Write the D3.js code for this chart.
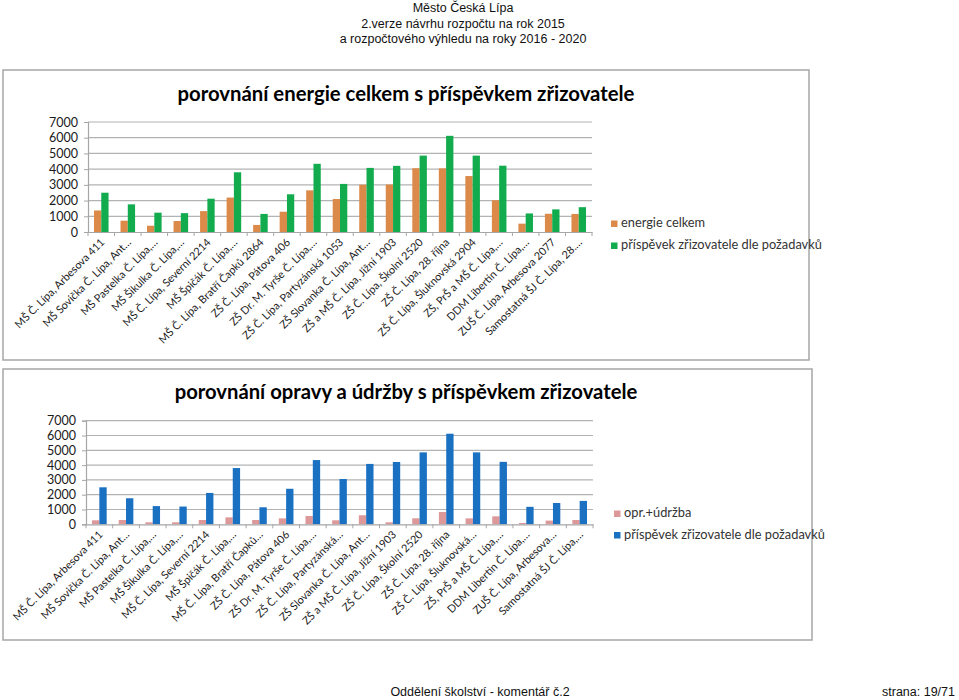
<!DOCTYPE html>
<html><head><meta charset="utf-8">
<script src="https://cdn.jsdelivr.net/npm/d3@7/dist/d3.min.js"></script>
<style>
html,body{margin:0;padding:0;background:#fff;}
svg{display:block;}
</style></head>
<body>
<svg id="c" width="959" height="700"></svg>
<script>
const categoriesTop = [
  "MŠ Č. Lípa, Arbesova 411","MŠ Sovička Č. Lípa, Ant…","MŠ Pastelka Č. Lípa,…","MŠ Šikulka Č. Lípa,…",
  "MŠ Č. Lípa, Severní 2214","MŠ Špičák Č. Lípa,…","MŠ Č. Lípa, Bratří Čapků 2864","ZŠ Č. Lípa, Pátova 406",
  "ZŠ Dr. M. Tyrše Č. Lípa,…","ZŠ Č. Lípa, Partyzánská 1053","ZŠ Slovanka Č. Lípa, Ant…","ZŠ a MŠ Č. Lípa, Jižní 1903",
  "ZŠ Č. Lípa, Školní 2520","ZŠ Č. Lípa, 28. října","ZŠ Č. Lípa, Šluknovská 2904","ZŠ, PrŠ a MŠ Č. Lípa,…",
  "DDM Libertin Č. Lípa,…","ZUŠ Č. Lípa, Arbesova 2077","Samostatná ŠJ Č. Lípa, 28.…"
];
const categoriesBottom = [
  "MŠ Č. Lípa, Arbesova 411","MŠ Sovička Č. Lípa, Ant…","MŠ Pastelka Č. Lípa,…","MŠ Šikulka Č. Lípa,…",
  "MŠ Č. Lípa, Severní 2214","MŠ Špičák Č. Lípa,…","MŠ Č. Lípa, Bratří Čapků…","ZŠ Č. Lípa, Pátova 406",
  "ZŠ Dr. M. Tyrše Č. Lípa,…","ZŠ Č. Lípa, Partyzánská…","ZŠ Slovanka Č. Lípa, Ant…","ZŠ a MŠ Č. Lípa, Jižní 1903",
  "ZŠ Č. Lípa, Školní 2520","ZŠ Č. Lípa, 28. října","ZŠ Č. Lípa, Šluknovská…","ZŠ, PrŠ a MŠ Č. Lípa,…",
  "DDM Libertin Č. Lípa,…","ZUŠ Č. Lípa, Arbesova…","Samostatná ŠJ Č. Lípa,…"
];
const energieCelkem = [1370, 720, 400, 700, 1330, 2190, 450, 1290, 2650, 2100, 3010, 3020, 4060, 4050, 3560, 2020, 530, 1160, 1150];
const prispevekZrizovatele = [2500, 1760, 1230, 1200, 2120, 3800, 1150, 2400, 4340, 3060, 4080, 4210, 4860, 6120, 4860, 4220, 1180, 1440, 1580];
const opravyUdrzba = [270, 290, 135, 135, 290, 470, 290, 400, 560, 270, 610, 135, 405, 830, 400, 540, 90, 250, 290];
const yTicks = [0, 1000, 2000, 3000, 4000, 5000, 6000, 7000];
const headerLines = ["Město Česká Lípa", "2.verze návrhu rozpočtu na rok 2015", "a rozpočtového výhledu na roky 2016 - 2020"];
const footerLeft = "Oddělení školství - komentář č.2";
const footerRight = "strana: 19/71";

const svg = d3.select("#c");
const FONT = "Lato, Carlito, 'Noto Sans', sans-serif";

// page header
svg.append("g").selectAll("text").data(headerLines).join("text")
  .attr("x", 463).attr("y", (d,i)=>12 + i*15.6)
  .attr("text-anchor","middle").attr("font-family","'Liberation Sans', Arial, sans-serif")
  .attr("font-size", 12.5).attr("fill","#111").text(d=>d);

// footer
svg.append("text").attr("x", 480).attr("y", 696).attr("text-anchor","middle")
  .attr("font-family","'Liberation Sans', Arial, sans-serif").attr("font-size",12.5).attr("fill","#111").text(footerLeft);
svg.append("text").attr("x", 955).attr("y", 696).attr("text-anchor","end")
  .attr("font-family","'Liberation Sans', Arial, sans-serif").attr("font-size",12.5).attr("fill","#111").text(footerRight);

function drawChart(cfg) {
  const g = svg.append("g");
  g.append("rect").attr("x", cfg.box.x).attr("y", cfg.box.y).attr("width", cfg.box.w).attr("height", cfg.box.h)
    .attr("fill","#fff").attr("stroke","#a6a6a6").attr("stroke-width",1.5);

  const y = d3.scaleLinear().domain([0, 7000]).range([cfg.plot.b, cfg.plot.t]);
  const x0 = d3.scaleBand().domain(d3.range(cfg.categories.length)).range([cfg.plot.l, cfg.plot.r]).padding(0);
  const x1 = d3.scaleBand().domain([0,1]).range([0, x0.bandwidth()]).paddingInner(0).paddingOuter(0.82);

  // gridlines
  g.append("g").selectAll("line").data(yTicks.filter(t=>t>0)).join("line")
    .attr("x1", cfg.plot.l).attr("x2", cfg.plot.r)
    .attr("y1", d=>y(d)).attr("y2", d=>y(d))
    .attr("stroke","#b3b3b3").attr("stroke-width",1.2);

  // y axis
  const ya = d3.axisLeft(y).tickValues(yTicks).tickSize(4).tickPadding(6).tickFormat(d3.format("d"));
  const yg = g.append("g").attr("transform", `translate(${cfg.plot.l},0)`).call(ya);
  yg.select(".domain").attr("stroke","#a6a6a6").attr("stroke-width",1.2);
  yg.selectAll(".tick line").attr("stroke","#a6a6a6");
  yg.selectAll("text").attr("font-family", FONT).attr("font-size", 12.5).attr("fill","#1a1a1a");

  // bars
  const series = [cfg.s1, cfg.s2];
  series.forEach((s, si) => {
    g.append("g").selectAll("rect").data(s.values).join("rect")
      .attr("x", (d,i)=>x0(i) + x1(si))
      .attr("width", x1.bandwidth())
      .attr("y", d=>y(d))
      .attr("height", d=>y(0)-y(d))
      .attr("fill", s.color);
  });

  // x axis
  const xa = d3.axisBottom(x0).tickSize(0).tickFormat(()=> "");
  const xg = g.append("g").attr("transform", `translate(0,${cfg.plot.b})`).call(xa);
  xg.select(".domain").attr("stroke","#a6a6a6").attr("stroke-width",1.2);
  // category boundary ticks
  g.append("g").selectAll("line").data(d3.range(cfg.categories.length+1)).join("line")
    .attr("x1", i=>cfg.plot.l + i*x0.step()).attr("x2", i=>cfg.plot.l + i*x0.step())
    .attr("y1", cfg.plot.b).attr("y2", cfg.plot.b+4).attr("stroke","#a6a6a6");

  g.append("g").selectAll("text").data(cfg.categories).join("text")
    .attr("transform", (d,i)=>`translate(${x0(i)+x0.bandwidth()/2+4},${cfg.plot.b+11}) rotate(-45)`)
    .attr("text-anchor","end").attr("font-family", FONT).attr("font-size", 10.8).attr("fill","#1a1a1a")
    .text(d=>d);

  // title
  const t = g.append("text").attr("x", cfg.titleX).attr("y", cfg.titleY).attr("text-anchor","middle")
    .attr("font-family", FONT).attr("font-weight","bold").attr("font-size", 22).attr("fill","#000").text(cfg.title);
  const w = t.node().getComputedTextLength();
  t.attr("font-size", 22 * cfg.titleW / w);

  // legend
  const lg = g.append("g");
  series.forEach((s, si) => {
    const ly = cfg.legend.y + si*cfg.legend.dy;
    lg.append("rect").attr("x", cfg.legend.x).attr("y", ly-6.5).attr("width",6.5).attr("height",6.5).attr("fill", s.color);
    lg.append("text").attr("x", cfg.legend.x+10).attr("y", ly).attr("font-family", FONT).attr("font-size", 12.8)
      .attr("fill","#333").text(s.name);
  });
}

drawChart({
  box:{x:3,y:70,w:806,h:290},
  plot:{l:88,r:592,t:122,b:232},
  categories: categoriesTop,
  s1:{name:"energie celkem", values: energieCelkem, color:"#dc8a49"},
  s2:{name:"příspěvek zřizovatele dle požadavků", values: prispevekZrizovatele, color:"#12ac4f"},
  title:"porovnání energie celkem s příspěvkem zřizovatele", titleX:406, titleY:101, titleW:457,
  legend:{x:611, y:227, dy:22}
});

drawChart({
  box:{x:3,y:369,w:809,h:271},
  plot:{l:86,r:593,t:420.7,b:524.3},
  categories: categoriesBottom,
  s1:{name:"opr.+údržba", values: opravyUdrzba, color:"#dd999a"},
  s2:{name:"příspěvek zřizovatele dle požadavků", values: prispevekZrizovatele, color:"#1a70c1"},
  title:"porovnání opravy a údržby s příspěvkem zřizovatele", titleX:406, titleY:399, titleW:463,
  legend:{x:614, y:517, dy:21.5}
});
</script>
</body></html>
